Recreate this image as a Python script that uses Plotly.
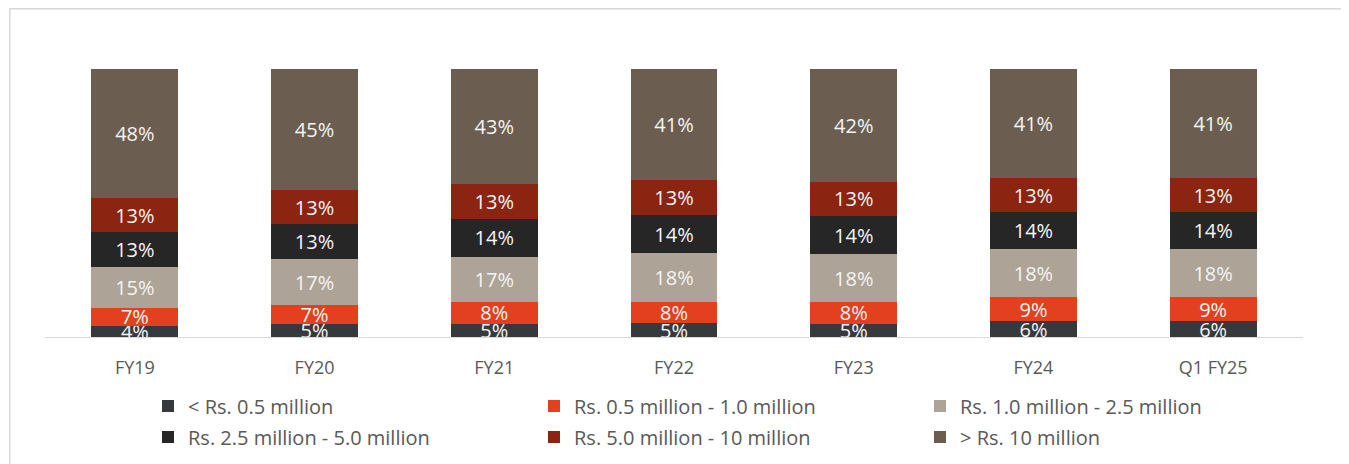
import plotly.graph_objects as go

periods = ['FY19', 'FY20', 'FY21', 'FY22', 'FY23', 'FY24', 'Q1 FY25']

below_05 = [4, 5, 5, 5, 5, 6, 6]
from_05_to_10 = [7, 7, 8, 8, 8, 9, 9]
from_10_to_25 = [15, 17, 17, 18, 18, 18, 18]
from_25_to_50 = [13, 13, 14, 14, 14, 14, 14]
from_50_to_100 = [13, 13, 13, 13, 13, 13, 13]
above_100 = [48, 45, 43, 41, 42, 41, 41]

series = [
    ('< Rs. 0.5 million', below_05, '#363a3c', 'legend'),
    ('Rs. 0.5 million - 1.0 million', from_05_to_10, '#e2401e', 'legend'),
    ('Rs. 1.0 million - 2.5 million', from_10_to_25, '#ada396', 'legend'),
    ('Rs. 2.5 million - 5.0 million', from_25_to_50, '#262626', 'legend2'),
    ('Rs. 5.0 million - 10 million', from_50_to_100, '#8c2412', 'legend2'),
    ('> Rs. 10 million', above_100, '#6b5e50', 'legend2'),
]

FONT = 'Open Sans'
W, H = 1349, 464
OFF = 8  # page body margin

fig = go.Figure()
for name, vals, color, leg in series:
    fig.add_trace(go.Bar(
        x=periods, y=vals, name=name, marker_color=color, marker_line_width=0,
        text=[f'{v}%' for v in vals], textposition='inside', insidetextanchor='middle',
        textfont=dict(color='#f4f4f4', size=20, family=FONT),
        legend=leg, cliponaxis=False,
    ))

legend_style = dict(orientation='h', x=(148 - OFF) / W, xref='container', xanchor='left',
                    yref='container', yanchor='middle',
                    entrywidth=341, entrywidthmode='pixels', itemwidth=30,
                    font=dict(size=20, color='#595959', family=FONT),
                    bgcolor='rgba(0,0,0,0)', traceorder='normal')

fig.update_layout(
    barmode='stack', barnorm='percent', bargap=0.517,
    width=W, height=H,
    margin=dict(l=45 - OFF, r=W - 1303 + OFF, t=69 - OFF, b=H - 337 + OFF, autoexpand=False),
    paper_bgcolor='white', plot_bgcolor='white',
    font=dict(family=FONT, color='#595959'),
    uniformtext=dict(minsize=20, mode='show'),
    legend=dict(y=1 - (406 - OFF) / H, **legend_style),
    legend2=dict(y=1 - (437 - OFF) / H, **legend_style),
    xaxis=dict(showline=True, linecolor='#d9d9d9', linewidth=1, showgrid=False,
               ticks='outside', ticklen=14, tickcolor='rgba(0,0,0,0)',
               tickfont=dict(size=18, color='#595959', family=FONT)),
    yaxis=dict(range=[0, 100], visible=False),
    shapes=[dict(type='rect', xref='paper', yref='paper',
                 x0=-0.028, x1=1.0317, y0=-0.5, y1=1.225,
                 line=dict(color='#d9d9d9', width=1.5), layer='below')],
)

fig.write_html('out.html')
